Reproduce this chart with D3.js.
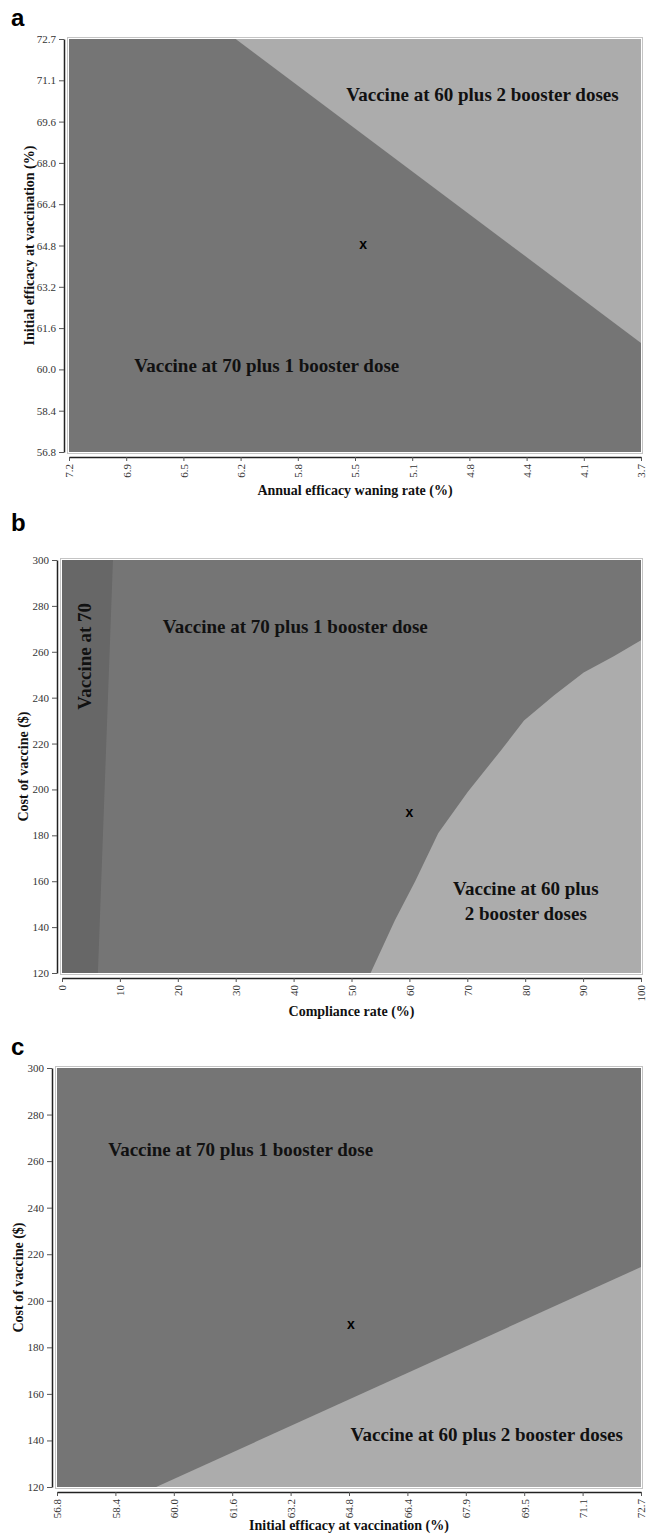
<!DOCTYPE html>
<html><head><meta charset="utf-8">
<script src="https://cdn.jsdelivr.net/npm/d3@7"></script>
<style>
html,body{margin:0;padding:0;background:#fff;}
svg{display:block;}
</style></head>
<body>
<svg id="chart" width="648" height="1537"></svg>
<script>
// ---------- Panel a data ----------
const aXTicks = [7.2, 6.85, 6.5, 6.15, 5.8, 5.45, 5.1, 4.75, 4.4, 4.05, 3.7];
const aXTickLabels = ["7.2","6.9","6.5","6.2","5.8","5.5","5.1","4.8","4.4","4.1","3.7"];
const aYTicks = [56.8, 58.39, 59.98, 61.57, 63.16, 64.75, 66.34, 67.93, 69.52, 71.11, 72.7];
const aYTickLabels = ["56.8","58.4","60.0","61.6","63.2","64.8","66.4","68.0","69.6","71.1","72.7"];
const aBoundaryWaning = [6.18, 3.7];
const aBoundaryEfficacy = [72.7, 61.0];
const aBase = {waning: 5.4, efficacy: 64.8};
const aLabels = [
  {text: "Vaccine at 60 plus 2 booster doses", x: 4.67, y: 70.55},
  {text: "Vaccine at 70 plus 1 booster dose", x: 5.99, y: 60.15}
];

// ---------- Panel b data ----------
const bXTicks = [0,10,20,30,40,50,60,70,80,90,100];
const bYTicks = [120,140,160,180,200,220,240,260,280,300];
const bV70Compliance = [6.2, 8.8];
const bV70Cost = [120, 300];
const bCurveCompliance = [53.3, 57.5, 61, 65, 70.1, 75.8, 79.8, 85, 90.1, 95.3, 100];
const bCurveCost = [120, 143, 160, 181, 199, 217, 230, 241, 251, 258, 265];
const bBase = {compliance: 60, cost: 190};
const bLabels = [
  {text: "Vaccine at 70 plus 1 booster dose", x: 40.3, y: 271},
  {text: "Vaccine at 60 plus", x: 80.1, y: 157},
  {text: "2 booster doses", x: 80.1, y: 146}
];
const bRotLabel = {text: "Vaccine at 70", x: 3.8, y: 258};

// ---------- Panel c data ----------
const cXTicks = [56.8, 58.39, 59.98, 61.57, 63.16, 64.75, 66.34, 67.93, 69.52, 71.11, 72.7];
const cXTickLabels = ["56.8","58.4","60.0","61.6","63.2","64.8","66.4","67.9","69.5","71.1","72.7"];
const cYTicks = [120,140,160,180,200,220,240,260,280,300];
const cBoundaryEfficacy = [59.5, 72.7];
const cBoundaryCost = [120, 214.5];
const cBase = {efficacy: 64.8, cost: 190};
const cLabels = [
  {text: "Vaccine at 70 plus 1 booster dose", x: 61.8, y: 265},
  {text: "Vaccine at 60 plus 2 booster doses", x: 68.5, y: 142.6}
];

// ---------- styles ----------
const COL_MID = "#757575", COL_LIGHT = "#acacac", COL_DARK = "#676767";
const SERIF = "'Liberation Serif','Times New Roman',serif";
const SANS = "'Liberation Sans',Arial,sans-serif";

const svg = d3.select("#chart");
svg.append("rect").attr("width",648).attr("height",1537).attr("fill","#fff");

function panel(o) {
  const g = svg.append("g");
  const x = d3.scaleLinear().domain(o.xDomain).range([o.left, o.right]);
  const y = d3.scaleLinear().domain(o.yDomain).range([o.bottom, o.top]);
  g.append("rect").attr("x", o.left).attr("y", o.top)
    .attr("width", o.right - o.left).attr("height", o.bottom - o.top)
    .attr("fill", COL_MID);
  o.regions.forEach(r => {
    g.append("path")
      .attr("d", d3.line().x(d => x(d[0])).y(d => y(d[1]))(r.pts) + "Z")
      .attr("fill", r.fill);
  });
  g.append("rect").attr("x", o.left - 1.5).attr("y", o.top - 1.5)
    .attr("width", o.right - o.left + 3).attr("height", o.bottom - o.top + 3)
    .attr("fill","none").attr("stroke","#c4c4c4").attr("stroke-width",1);
  const ya = g.append("g").attr("transform", `translate(${o.left - 5},0)`)
    .call(d3.axisLeft(y).tickValues(o.yTicks).tickFormat((d,i) => o.yLabels[i])
      .tickSize(5).tickPadding(3).tickSizeOuter(0));
  ya.select(".domain").attr("stroke","#222").attr("stroke-width",1.5);
  ya.selectAll(".tick line").attr("stroke","#555");
  ya.selectAll("text").attr("font-family", SERIF).attr("font-size", 11).attr("fill","#333");
  const xa = g.append("g").attr("transform", `translate(0,${o.bottom + 5})`)
    .call(d3.axisBottom(x).tickValues(o.xTicks).tickFormat((d,i) => o.xLabels[i])
      .tickSize(4).tickSizeOuter(0));
  xa.select(".domain").attr("stroke","#222").attr("stroke-width",1.5);
  xa.selectAll(".tick line").attr("stroke","#555");
  xa.selectAll("text").attr("font-family", SERIF).attr("font-size", 11).attr("fill","#333")
    .attr("transform","rotate(-90)").attr("x",-7).attr("y",0).attr("dy","0.35em")
    .attr("text-anchor","end");
  g.append("text").attr("x", (o.left + o.right)/2).attr("y", o.xTitleY)
    .attr("text-anchor","middle").attr("font-family", SERIF).attr("font-weight","bold")
    .attr("font-size", 14).attr("fill","#111").text(o.xTitle);
  g.append("text").attr("transform", `translate(${o.yTitleX},${(o.top+o.bottom)/2}) rotate(-90)`)
    .attr("text-anchor","middle").attr("font-family", SERIF).attr("font-weight","bold")
    .attr("font-size", 14).attr("fill","#111").text(o.yTitle);
  g.append("text").attr("x", o.letterX).attr("y", o.letterY)
    .attr("font-family", SANS).attr("font-weight","bold").attr("font-size", 24)
    .attr("fill","#000").text(o.letter);
  o.labels.forEach(l => {
    g.append("text").attr("x", x(l.x)).attr("y", y(l.y)).attr("dy","0.35em")
      .attr("text-anchor","middle").attr("font-family", SERIF).attr("font-weight","bold")
      .attr("font-size", 19).attr("fill","#111").text(l.text);
  });
  if (o.rotLabel) {
    g.append("text").attr("transform", `translate(${x(o.rotLabel.x)},${y(o.rotLabel.y)}) rotate(-90)`)
      .attr("dy","0.35em").attr("text-anchor","middle").attr("font-family", SERIF)
      .attr("font-weight","bold").attr("font-size", 19).attr("fill","#111").text(o.rotLabel.text);
  }
  g.append("text").attr("x", x(o.base[0])).attr("y", y(o.base[1])).attr("dy","0.35em")
    .attr("text-anchor","middle").attr("font-family", SANS).attr("font-weight","bold")
    .attr("font-size", 14).attr("fill","#000").text("x");
}

panel({
  xDomain: [7.2, 3.7], yDomain: [56.8, 72.7],
  left: 69, right: 641, top: 39, bottom: 452,
  xTicks: aXTicks, xLabels: aXTickLabels, yTicks: aYTicks, yLabels: aYTickLabels,
  regions: [{fill: COL_LIGHT, pts: aBoundaryWaning.map((w,i) => [w, aBoundaryEfficacy[i]]).concat([[3.7, 72.7]])}],
  labels: aLabels, base: [aBase.waning, aBase.efficacy],
  xTitle: "Annual efficacy waning rate (%)", yTitle: "Initial efficacy at vaccination (%)",
  xTitleY: 495, yTitleX: 34, letter: "a", letterX: 11, letterY: 26
});

panel({
  xDomain: [0, 100], yDomain: [120, 300],
  left: 62, right: 641, top: 560, bottom: 973,
  xTicks: bXTicks, xLabels: bXTicks.map(String), yTicks: bYTicks, yLabels: bYTicks.map(String),
  regions: [
    {fill: COL_DARK, pts: [[0,120]].concat(bV70Compliance.map((c,i) => [c, bV70Cost[i]])).concat([[0,300]])},
    {fill: COL_LIGHT, pts: bCurveCompliance.map((c,i) => [c, bCurveCost[i]]).concat([[100,120]])}
  ],
  labels: bLabels, rotLabel: bRotLabel, base: [bBase.compliance, bBase.cost],
  xTitle: "Compliance rate (%)", yTitle: "Cost of vaccine ($)",
  xTitleY: 1016, yTitleX: 28, letter: "b", letterX: 11, letterY: 531
});

panel({
  xDomain: [56.8, 72.7], yDomain: [120, 300],
  left: 57, right: 641, top: 1068, bottom: 1487,
  xTicks: cXTicks, xLabels: cXTickLabels, yTicks: cYTicks, yLabels: cYTicks.map(String),
  regions: [{fill: COL_LIGHT, pts: cBoundaryEfficacy.map((e,i) => [e, cBoundaryCost[i]]).concat([[72.7,120]])}],
  labels: cLabels, base: [cBase.efficacy, cBase.cost],
  xTitle: "Initial efficacy at vaccination (%)", yTitle: "Cost of vaccine ($)",
  xTitleY: 1530, yTitleX: 23, letter: "c", letterX: 11, letterY: 1055
});
</script>
</body></html>
